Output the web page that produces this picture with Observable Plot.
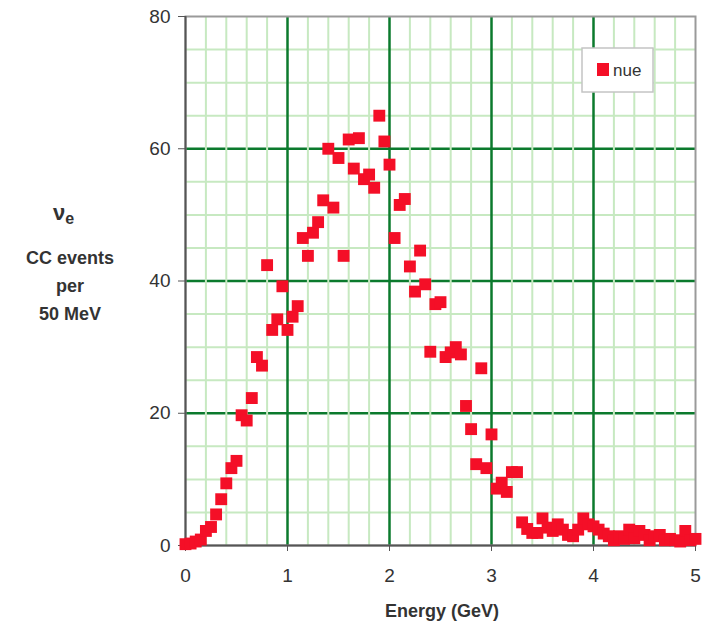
<!DOCTYPE html>
<html><head><meta charset="utf-8">
<script src="https://cdn.jsdelivr.net/npm/d3@7"></script>
<script src="https://cdn.jsdelivr.net/npm/@observablehq/plot@0.6"></script>
<style>body{margin:0;background:#fff}#chart{width:709px;height:627px}</style>
</head><body><div id="chart"></div>
<script>
const energy = [0.00,0.05,0.10,0.15,0.20,0.25,0.30,0.35,0.40,0.45,
  0.50,0.55,0.60,0.65,0.70,0.75,0.80,0.85,0.90,0.95,
  1.00,1.05,1.10,1.15,1.20,1.25,1.30,1.35,1.40,1.45,
  1.50,1.55,1.60,1.65,1.70,1.75,1.80,1.85,1.90,1.95,
  2.00,2.05,2.10,2.15,2.20,2.25,2.30,2.35,2.40,2.45,
  2.50,2.55,2.60,2.65,2.70,2.75,2.80,2.85,2.90,2.95,
  3.00,3.05,3.10,3.15,3.20,3.25,3.30,3.35,3.40,3.45,
  3.50,3.55,3.60,3.65,3.70,3.75,3.80,3.85,3.90,3.95,
  4.00,4.05,4.10,4.15,4.20,4.25,4.30,4.35,4.40,4.45,
  4.50,4.55,4.60,4.65,4.70,4.75,4.80,4.85,4.90,4.95,5.00];
const nue = [0.2,0.3,0.6,0.9,2.2,2.8,4.7,7.0,9.4,11.7,
  12.8,19.7,18.9,22.3,28.5,27.2,42.4,32.6,34.2,39.2,
  32.6,34.6,36.2,46.5,43.8,47.3,48.9,52.2,60.0,51.1,
  58.6,43.8,61.4,57.0,61.6,55.4,56.1,54.1,65.0,61.1,
  57.6,46.5,51.5,52.4,42.2,38.4,44.6,39.5,29.3,36.5,
  36.8,28.5,29.2,30.0,28.9,21.1,17.6,12.3,26.8,11.7,
  16.8,8.6,9.5,8.1,11.1,11.1,3.5,2.5,1.9,1.9,
  4.1,2.7,2.2,3.2,2.4,1.6,1.4,2.4,4.1,3.2,
  2.9,2.4,1.8,1.4,0.8,1.4,1.0,2.4,1.1,2.2,
  1.6,0.8,1.4,1.6,0.8,1.0,0.8,0.6,2.2,0.8,1.0];
const xTicks = [0,1,2,3,4,5];
const yTicks = [0,20,40,60,80];
const xMinor = [0.2,0.4,0.6,0.8,1.2,1.4,1.6,1.8,2.2,2.4,2.6,2.8,3.2,3.4,3.6,3.8,4.2,4.4,4.6,4.8];
const yMinor = [5,10,15,25,30,35,45,50,55,65,70,75];
const xMajorGrid = [1,2,3,4];
const yMajorGrid = [20,40,60];
const seriesName = "nue";
const xLabel = "Energy (GeV)";
const yLabelSymbol = "ν";
const yLabelSub = "e";
const yLabelLines = ["CC events","per","50 MeV"];

const red = "#f40f27";
const font = "'Liberation Sans', Arial, Helvetica, sans-serif";
const data = energy.map((e, i) => ({energy: e, events: nue[i]}));

const svg = Plot.plot({
  width: 709, height: 627,
  marginLeft: 185, marginRight: 14, marginTop: 16, marginBottom: 82,
  style: {fontFamily: font, fontSize: "19px", color: "#333", background: "#fff", overflow: "visible"},
  x: {domain: [0, 5]},
  y: {domain: [0, 80]},
  marks: [
    Plot.ruleY(yMinor, {stroke: "#c7e9c1", strokeWidth: 2}),
    Plot.ruleY(yMajorGrid, {stroke: "#0b7a2d", strokeWidth: 2.5}),
    Plot.ruleX(xMinor, {stroke: "#c7e9c1", strokeWidth: 2}),
    Plot.ruleX(xMajorGrid, {stroke: "#0b7a2d", strokeWidth: 2.5}),
    Plot.frame({stroke: "#9a9a9a", strokeWidth: 2}),
    Plot.ruleX([0], {stroke: "#555", strokeWidth: 2}),
    Plot.ruleY([0], {stroke: "#555", strokeWidth: 2}),
    Plot.axisX({ticks: xTicks, tickFormat: d3.format("d"), tickSize: 6, tickPadding: 17, label: null, fontSize: 19, stroke: "#555"}),
    Plot.axisY({ticks: yTicks, tickFormat: d3.format("d"), tickSize: 7, tickPadding: 8, label: null, fontSize: 19, stroke: "#555"}),
    Plot.dot(data, {x: "energy", y: "events", symbol: "square", r: 6.7, fill: red, stroke: "none"})
  ]
});
document.getElementById("chart").appendChild(svg);

const s = d3.select(svg);
s.append("text").attr("x", 442).attr("y", 617).attr("text-anchor", "middle")
  .style("font", `bold 18px ${font}`).attr("fill", "#333").text(xLabel);

const yl = s.append("text").attr("x", 53).attr("y", 220).attr("text-anchor", "start")
  .style("font", `bold 22px ${font}`).attr("fill", "#333");
yl.append("tspan").text(yLabelSymbol);
yl.append("tspan").attr("dy", 4).style("font-size", "16px").text(yLabelSub);
yLabelLines.forEach((t, i) => {
  s.append("text").attr("x", 70).attr("y", 264 + i * 28).attr("text-anchor", "middle")
    .style("font", `bold 18px ${font}`).attr("fill", "#333").text(t);
});

const lg = s.append("g");
lg.append("rect").attr("x", 582).attr("y", 48).attr("width", 71).attr("height", 44)
  .attr("fill", "#fff").attr("stroke", "#c4c4c4").attr("stroke-width", 1.5);
lg.append("rect").attr("x", 597).attr("y", 63).attr("width", 12).attr("height", 13).attr("fill", red);
lg.append("text").attr("x", 613).attr("y", 76).attr("text-anchor", "start")
  .style("font", `17px ${font}`).attr("fill", "#333").text(seriesName);
</script>
</body></html>
